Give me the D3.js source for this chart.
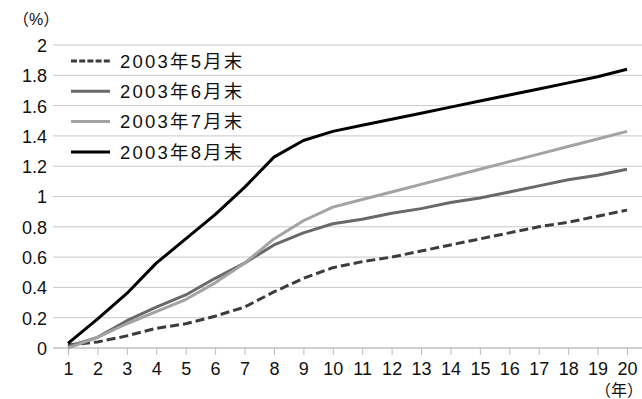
<!DOCTYPE html>
<html lang="ja">
<head>
  <meta charset="UTF-8">
  <title>2003年 月末別カーブ</title>
  <style>
    body { margin: 0; background: #fff; }
    svg { display: block; font-family: "Liberation Sans", "Noto Sans CJK JP", sans-serif; }
    .grid line { stroke: #c8c8c8; stroke-width: 1; }
    .tick text { fill: #111; font-size: 18px; }
  </style>
  <script src="https://d3js.org/d3.v7.min.js"></script>
</head>
<body>
  <svg id="chart" width="642" height="399"></svg>
  <script>
    const years = d3.range(1, 21);
    const yTicks = [0, 0.2, 0.4, 0.6, 0.8, 1, 1.2, 1.4, 1.6, 1.8, 2];
    const seriesNames = ["2003年5月末", "2003年6月末", "2003年7月末", "2003年8月末"];

    const may = [0.02, 0.04, 0.08, 0.13, 0.16, 0.21, 0.27, 0.37, 0.46, 0.53,
                 0.57, 0.60, 0.64, 0.68, 0.72, 0.76, 0.80, 0.83, 0.87, 0.91];
    const jun = [0.01, 0.07, 0.18, 0.27, 0.35, 0.46, 0.56, 0.68, 0.76, 0.82,
                 0.85, 0.89, 0.92, 0.96, 0.99, 1.03, 1.07, 1.11, 1.14, 1.18];
    const jul = [0.00, 0.07, 0.16, 0.24, 0.32, 0.43, 0.56, 0.72, 0.84, 0.93,
                 0.98, 1.03, 1.08, 1.13, 1.18, 1.23, 1.28, 1.33, 1.38, 1.43];
    const aug = [0.03, 0.19, 0.36, 0.56, 0.72, 0.88, 1.06, 1.26, 1.37, 1.43,
                 1.47, 1.51, 1.55, 1.59, 1.63, 1.67, 1.71, 1.75, 1.79, 1.84];

    const styles = [
      { color: "#3c3c3c", dash: "9,4" },
      { color: "#696969", dash: null },
      { color: "#a3a3a3", dash: null },
      { color: "#000000", dash: null }
    ];
    const series = [may, jun, jul, aug];

    const svg = d3.select("#chart");
    const x = d3.scalePoint().domain(years).range([68, 627]);
    const y = d3.scaleLinear().domain([0, 2]).range([348, 45]);

    // horizontal grid
    svg.append("g").attr("class", "grid")
      .selectAll("line").data(yTicks).enter().append("line")
      .attr("x1", 53).attr("x2", 642)
      .attr("y1", d => y(d)).attr("y2", d => y(d));

    // y axis labels
    const yAxis = svg.append("g").attr("transform", "translate(47,0)")
      .call(d3.axisLeft(y).tickValues(yTicks).tickSize(0).tickPadding(0).tickFormat(d3.format("")));
    yAxis.select(".domain").remove();
    yAxis.selectAll("text").attr("dy", "0.36em");

    // x axis
    const xAxis = svg.append("g").attr("transform", `translate(0,${y(0)})`)
      .call(d3.axisBottom(x).tickSize(7).tickPadding(5));
    xAxis.select(".domain").attr("d", "M53,0H642").attr("stroke", "#bbb");
    xAxis.selectAll(".tick line").attr("stroke", "#bbb");
    xAxis.selectAll(".tick text").attr("dy", "0.85em");

    const line = d3.line().x((d, i) => x(years[i])).y(d => y(d));
    svg.append("g").selectAll("path").data(series).enter().append("path")
      .attr("d", line)
      .attr("fill", "none")
      .attr("stroke", (d, i) => styles[i].color)
      .attr("stroke-width", 3)
      .attr("stroke-dasharray", (d, i) => styles[i].dash)
      .attr("stroke-linejoin", "round");

    // legend
    const legend = svg.append("g").selectAll("g").data(seriesNames).enter().append("g")
      .attr("transform", (d, i) => `translate(71,${61 + i * 30.3})`);
    legend.append("line")
      .attr("x1", 0).attr("x2", 39)
      .attr("stroke", (d, i) => styles[i].color)
      .attr("stroke-width", 3)
      .attr("stroke-dasharray", (d, i) => styles[i].dash ? "6,2.2" : null);
    legend.append("text")
      .attr("x", 49).attr("dy", "0.36em")
      .attr("font-size", 18.5).attr("letter-spacing", 2.2).attr("fill", "#111")
      .text(d => d);

    svg.append("text").attr("x", 13).attr("y", 25)
      .attr("font-size", 16).attr("fill", "#111").text("（%）");
    svg.append("text").attr("x", 643).attr("y", 396).attr("text-anchor", "end")
      .attr("font-size", 16).attr("fill", "#111").text("（年）");
  </script>
</body>
</html>
